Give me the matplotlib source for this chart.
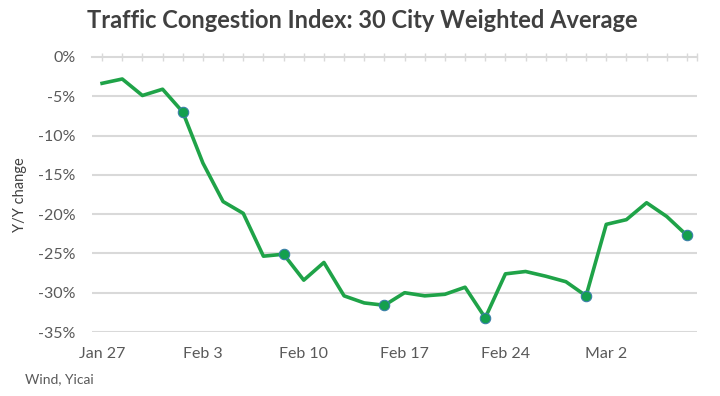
import numpy as np
import matplotlib.pyplot as plt

# weekday series, Jan 27 - Mar 6 (Y/Y change, %)
dias = ['Jan 27', 'Jan 28', 'Jan 29', 'Jan 30', 'Jan 31',
        'Feb 3', 'Feb 4', 'Feb 5', 'Feb 6', 'Feb 7',
        'Feb 10', 'Feb 11', 'Feb 12', 'Feb 13', 'Feb 14',
        'Feb 17', 'Feb 18', 'Feb 19', 'Feb 20', 'Feb 21',
        'Feb 24', 'Feb 25', 'Feb 26', 'Feb 27', 'Feb 28',
        'Mar 2', 'Mar 3', 'Mar 4', 'Mar 5', 'Mar 6']
cambio = [-3.35, -2.8, -4.9, -4.1, -7.0,
          -13.5, -18.4, -19.9, -25.35, -25.1,
          -28.4, -26.15, -30.4, -31.3, -31.6,
          -30.0, -30.4, -30.2, -29.3, -33.2,
          -27.6, -27.3, -27.9, -28.6, -30.4,
          -21.3, -20.7, -18.55, -20.3, -22.7]
viernes = [4, 9, 14, 19, 24, 29]   # marked points (Fridays)
etiquetas = ['Jan 27', 'Feb 3', 'Feb 10', 'Feb 17', 'Feb 24', 'Mar 2']
yticks = [0, -5, -10, -15, -20, -25, -30, -35]

plt.rcParams['font.family'] = ['Lato', 'DejaVu Sans']

x = np.arange(len(dias))
y = np.array(cambio)

fig = plt.figure(figsize=(7.2, 3.96), dpi=100)
ax = fig.add_axes([92/720, 1-332/396, (697-92)/720, (332-57)/396])

gris = '#d9d9d9'
for v in yticks[1:]:
    ax.axhline(v, color=gris, lw=1.5, zorder=1)

ax.plot(x, y, color='#1fa348', lw=2.6, zorder=3)
ax.plot(x[viernes], y[viernes], ls='None', marker='o', markersize=7.5,
        markerfacecolor='#14a04e', markeredgecolor='#3a7fa8', markeredgewidth=0.8, zorder=4)

ax.set_xlim(-0.5, len(dias)-0.5)
ax.set_ylim(-35, 0)

for s in ['left', 'right', 'bottom']:
    ax.spines[s].set_visible(False)
ax.spines['top'].set_color(gris)
ax.spines['top'].set_linewidth(1.5)

ax.set_yticks(yticks)
ax.set_yticklabels([f'{v}%' for v in yticks])
ax.tick_params(axis='y', length=0, pad=12, labelsize=11.5, labelcolor='#595959')

ax.set_xticks([dias.index(e) for e in etiquetas])
ax.set_xticklabels(etiquetas)
ax.set_xticks(list(x) + [len(dias)-0.5], minor=True)
ax.tick_params(axis='x', which='both', top=True, bottom=False, labeltop=False, labelbottom=True,
               direction='inout', length=6, width=1, color=gris, labelsize=11.5, labelcolor='#595959', pad=8)

ax.set_ylabel('Y/Y change', fontsize=10.5, color='#404040', labelpad=8)

fig.text(362/720, 1-21/396, 'Traffic Congestion Index: 30 City Weighted Average',
         ha='center', va='center', fontsize=17, fontweight='bold', color='#404040')
fig.text(25/720, 1-379/396, 'Wind, Yicai', ha='left', va='center', fontsize=10, color='#595959')

fig.savefig('out.png', dpi=100)
